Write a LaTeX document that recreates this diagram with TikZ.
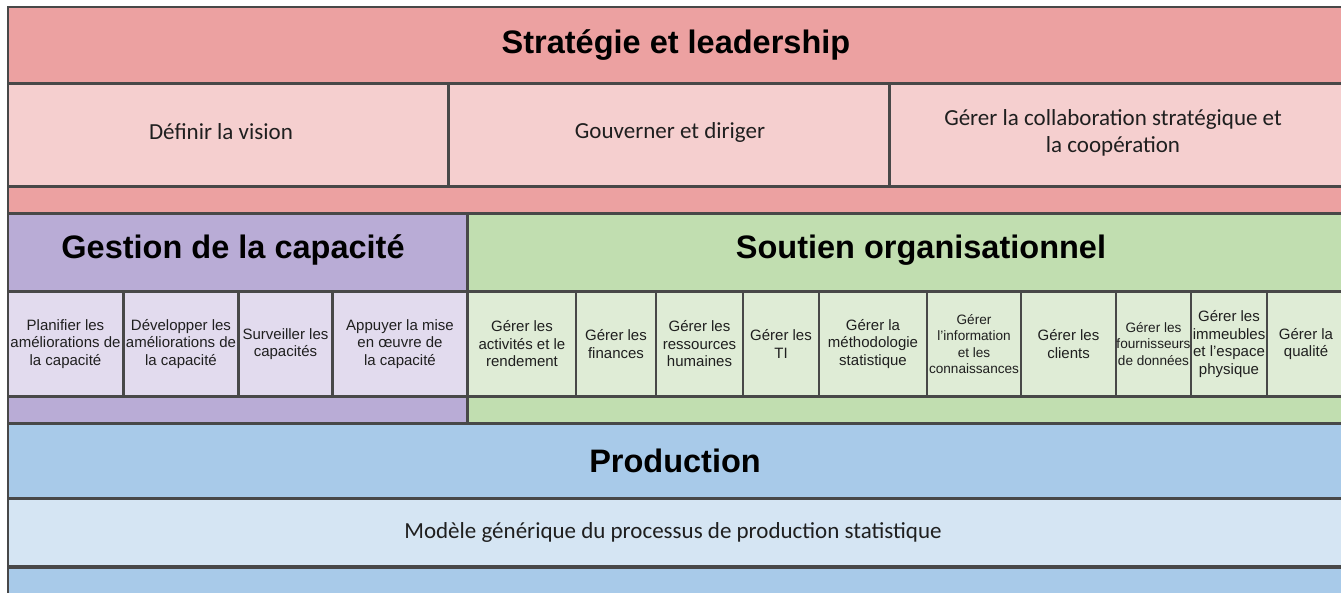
\documentclass[tikz,border=0pt]{standalone}
\usepackage{fontspec}
\setmainfont{Carlito}
\newfontfamily\arialfont{Liberation Sans}
\usepackage{xcolor}
\usepackage{tikz}

\definecolor{redband}{RGB}{236,161,161}
\definecolor{redlight}{RGB}{245,207,207}
\definecolor{purpleband}{RGB}{185,172,214}
\definecolor{purplelight}{RGB}{226,219,238}
\definecolor{greenband}{RGB}{193,222,176}
\definecolor{greenlight}{RGB}{223,236,214}
\definecolor{blueband}{RGB}{168,202,233}
\definecolor{bluelight}{RGB}{213,229,243}
\definecolor{edgegray}{RGB}{72,72,72}

\begin{document}
\begin{tikzpicture}[x=1pt,y=-1pt,
    cell/.style={draw=edgegray,line width=2.2pt,inner sep=0pt,align=center,text=black!88},
    title/.style={font=\arialfont\bfseries\fontsize{32.5}{38}\selectfont},
    plain/.style={font=\fontsize{23}{27.5}\selectfont},
    small/.style={font=\arialfont\fontsize{15}{17.5}\selectfont},
    tiny/.style={font=\arialfont\fontsize{13.6}{16.2}\selectfont}]
    \useasboundingbox (0,0) rectangle (1341,592);
    % strategie et leadership
    \node[cell,fill=redband,minimum width=1336,minimum height=76] (lead) at (676,45) {};
    \node[title] (leadtitle) at (676,45) {Stratégie et leadership};
    \node[cell,plain,fill=redlight,minimum width=440,minimum height=102] (vision) at (228,135) {};
    \node[plain,text=black!88] (visiontext) at (221,132) {Définir la vision};
    \node[cell,plain,fill=redlight,minimum width=440,minimum height=102] (gouv) at (669,135) {};
    \node[plain,text=black!88] (gouvtext) at (670,132) {Gouverner et diriger};
    \node[cell,plain,fill=redlight,minimum width=454,minimum height=102] (collab) at (1117,135) {};
    \node[plain,align=center,text=black!88] (collabtext) at (1113,133) {Gérer la collaboration stratégique et\\la coopération};
    \node[cell,fill=redband,minimum width=1336,minimum height=26] (leadfoot) at (676,200) {};
    %
    % gestion de la capacite
    \node[cell,fill=purpleband,minimum width=459,minimum height=77] (cap) at (237.5,252.5) {};
    \node[title] (captitle) at (233,250) {Gestion de la capacité};
    \node[cell,small,fill=purplelight,minimum width=115,minimum height=104] (capa) at (65.5,344) {Planifier les\\améliorations de\\la capacité};
    \node[cell,small,fill=purplelight,minimum width=114,minimum height=104] (capb) at (181,344) {Développer les\\améliorations de\\la capacité};
    \node[cell,small,fill=purplelight,minimum width=93,minimum height=104] (capc) at (285.5,344) {Surveiller les\\capacités};
    \node[cell,small,fill=purplelight,minimum width=134,minimum height=104] (capd) at (400,344) {Appuyer la mise\\en œuvre de\\la capacité};
    \node[cell,fill=purpleband,minimum width=459,minimum height=26] (capfoot) at (237.5,410) {};
    %
    % soutien organisationnel
    \node[cell,fill=greenband,minimum width=906,minimum height=77] (sout) at (921,252.5) {};
    \node[title] (souttitle) at (921,250) {Soutien organisationnel};
    \node[cell,small,fill=greenlight,minimum width=108,minimum height=104] (souta) at (522,344) {Gérer les\\activités et le\\rendement};
    \node[cell,small,fill=greenlight,minimum width=80,minimum height=104] (soutb) at (616,344) {Gérer les\\finances};
    \node[cell,small,fill=greenlight,minimum width=87,minimum height=104] (soutc) at (699.5,344) {Gérer les\\ressources\\humaines};
    \node[cell,small,fill=greenlight,minimum width=76,minimum height=104] (soutd) at (781,344) {Gérer les\\TI};
    \node[cell,small,fill=greenlight,minimum width=108,minimum height=104] (soute) at (873,344) {Gérer la\\méthodologie\\statistique};
    \node[cell,tiny,fill=greenlight,minimum width=94,minimum height=104] (soutf) at (974,344) {Gérer\\l’information\\et les\\connaissances};
    \node[cell,small,fill=greenlight,minimum width=95,minimum height=104] (soutg) at (1068.5,344) {Gérer les\\clients};
    \node[cell,tiny,fill=greenlight,minimum width=75,minimum height=104] (south) at (1153.5,344) {Gérer les\\fournisseurs\\de données};
    \node[cell,small,fill=greenlight,minimum width=76,minimum height=104] (souti) at (1229,344) {Gérer les\\immeubles\\et l’espace\\physique};
    \node[cell,small,fill=greenlight,minimum width=78,minimum height=104] (soutj) at (1306,344) {Gérer la\\qualité};
    \node[cell,fill=greenband,minimum width=906,minimum height=26] (soutfoot) at (921,410) {};
    %
    % production
    \node[cell,fill=blueband,minimum width=1336,minimum height=74] (prod) at (676,461) {};
    \node[title] (prodtitle) at (675,461) {Production};
    \node[cell,fill=bluelight,minimum width=1336,minimum height=67] (gsbpm) at (676,532.5) {};
    \node[plain,text=black!88] (gsbpmtext) at (673,532) {Modèle générique du processus de production statistique};
    \node[cell,fill=blueband,minimum width=1336,minimum height=40] (prodfoot) at (676,588) {};
\end{tikzpicture}
\end{document}
